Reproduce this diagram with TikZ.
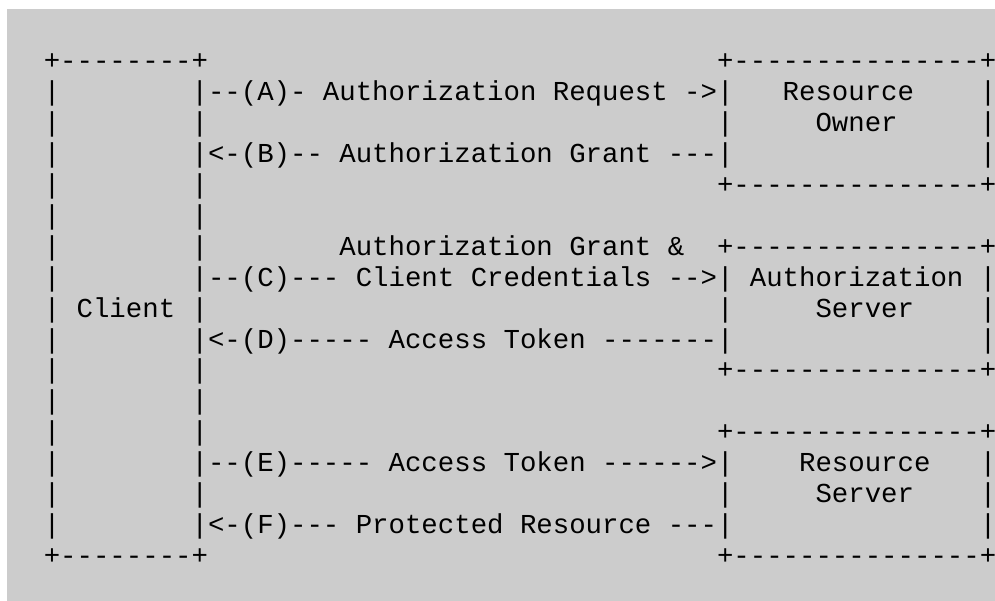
\documentclass[tikz,border=0pt]{standalone}
\usepackage{fontspec}
\setmonofont{Liberation Mono}
\usepackage{tikz}
\definecolor{panelgray}{HTML}{CCCCCC}
\tikzset{
  ascii/.style={font=\ttfamily\fontsize{27.37pt}{30.9pt}\selectfont\frenchspacing,
    inner sep=0pt, outer sep=0pt, anchor=base west}
}
\begin{document}
\begin{tikzpicture}[x=16.42pt, y=-30.9pt, every node/.style={ascii}]
% page and grey panel (one column = 16.42pt, one row = 30.9pt)
\useasboundingbox (-43.8pt,70pt) rectangle (951.2pt,-531pt);
\fill[white] (-43.8pt,70pt) rectangle (951.2pt,-531pt);
\fill[panelgray] (-36.8pt,61pt) rectangle (951.2pt,-531pt);

% client box
\node (clienttop) at (0,0) {+--------+};
\node (clientbot) at (0,16) {+--------+};
\foreach \r in {1,...,15} {
  \node (cl\r) at (0,\r) {|};
  \node (cr\r) at (9,\r) {|};
}
\node (client) at (2,8) {Client};

% server boxes
\foreach \t/\n in {0/owner, 6/authsrv, 12/ressrv} {
  \node (\n top) at (41,\t) {+---------------+};
  \node (\n bot) at (41,{\t+4}) {+---------------+};
  \foreach \s in {1,2,3} {
    \node (\n l\s) at (41,{\t+\s}) {|};
    \node (\n r\s) at (57,{\t+\s}) {|};
  }
}
\node (owner1) at (45,1) {Resource};
\node (owner2) at (47,2) {Owner};
\node (authsrv1) at (43,7) {Authorization};
\node (authsrv2) at (47,8) {Server};
\node (ressrv1) at (46,13) {Resource};
\node (ressrv2) at (47,14) {Server};

% messages
\node (msgA) at (10,1) {--(A)- Authorization Request ->};
\node (msgB) at (10,3) {<-(B)-- Authorization Grant ---};
\node (msgCa) at (18,6) {Authorization Grant \&};
\node (msgC) at (10,7) {--(C)--- Client Credentials -->};
\node (msgD) at (10,9) {<-(D)----- Access Token -------};
\node (msgE) at (10,13) {--(E)----- Access Token ------>};
\node (msgF) at (10,15) {<-(F)--- Protected Resource ---};
\end{tikzpicture}
\end{document}
